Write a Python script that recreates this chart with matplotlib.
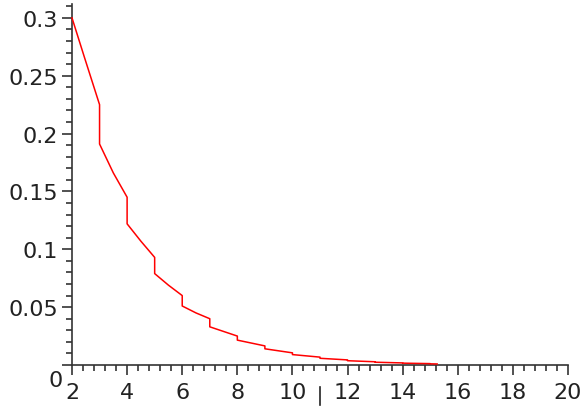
import matplotlib
matplotlib.use("Agg")
import matplotlib.pyplot as plt
from matplotlib.ticker import MultipleLocator
from matplotlib.lines import Line2D

# curve points (x, y); vertical drops at integers
x_vals = [2, 2.45, 3, 3, 3.5, 4, 4, 4.5, 5, 5, 5.5, 6, 6, 6.5, 7, 7, 7.5, 8, 8,
          9, 9, 10, 10, 11, 11, 12, 12, 13, 13, 14, 14, 15, 15, 15.25]
y_vals = [0.300, 0.266, 0.225, 0.191, 0.166, 0.145, 0.122, 0.107, 0.093, 0.079,
          0.069, 0.060, 0.051, 0.045, 0.040, 0.033, 0.029, 0.025, 0.0215,
          0.0165, 0.0140, 0.0105, 0.0090, 0.0068, 0.0058, 0.0044, 0.0037,
          0.0028, 0.0024, 0.0018, 0.0016, 0.0012, 0.0010, 0.0009]

x_major = [2, 4, 6, 8, 10, 12, 14, 16, 18, 20]
y_major = [0, 0.05, 0.1, 0.15, 0.2, 0.25, 0.3]
y_labels = ["", "0.05", "0.1", "0.15", "0.2", "0.25", "0.3"]

fig = plt.figure(figsize=(5.83, 4.14), dpi=100)
ax = fig.add_axes([72/583, 1-366/414, (568-72)/583, (366-5)/414])

ax.plot(x_vals, y_vals, color="#ff0000", lw=1.1, clip_on=False, zorder=5)

ax.set_xlim(2, 20)
ax.set_ylim(0, 0.312)
for s in ["top", "right"]:
    ax.spines[s].set_visible(False)
for s in ["left", "bottom"]:
    ax.spines[s].set_color("#333333")
    ax.spines[s].set_linewidth(1.2)

ax.set_xticks(x_major)
ax.set_xticklabels([str(v) for v in x_major])
ax.set_yticks(y_major)
ax.set_yticklabels(y_labels)
ax.xaxis.set_minor_locator(MultipleLocator(0.4))
ax.yaxis.set_minor_locator(MultipleLocator(0.01))

ax.tick_params(which="major", length=7, width=1.2, color="#333333",
               labelsize=16, labelcolor="#222222", direction="out")
ax.tick_params(which="minor", length=4.5, width=1.2, color="#333333", direction="out")
ax.tick_params(axis="y", pad=3)
ax.tick_params(axis="x", pad=5)

# the "0" label on the y axis sits below the axis line
ax.annotate("0", xy=(0, 0), xycoords=("axes fraction", "data"),
            xytext=(-9, -15), textcoords="offset pixels",
            ha="right", va="center", fontsize=16, color="#222222")

# stray cursor mark below the axis
fig.add_artist(Line2D([320/583, 320/583], [1-388/414, 1-406/414],
                      transform=fig.transFigure, color="#222222", lw=1.2))

fig.savefig("out.png", dpi=100)
